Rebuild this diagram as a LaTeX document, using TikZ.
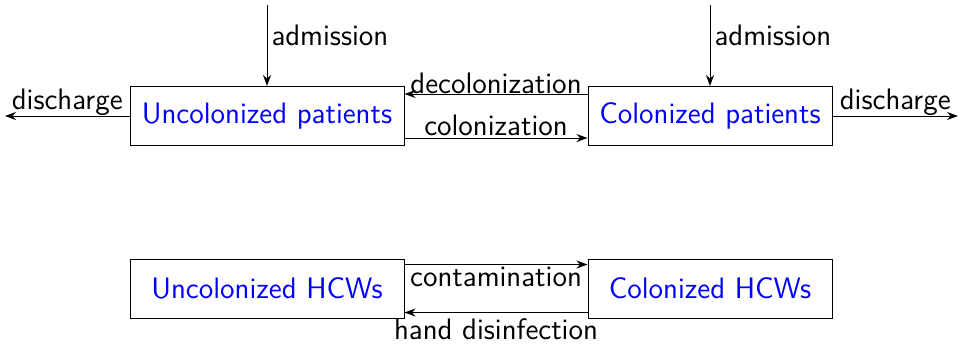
\documentclass[tikz,border=0pt]{standalone}
\usetikzlibrary{arrows.meta}
\begin{document}
\begin{tikzpicture}[x=0.5pt,y=-0.5pt,
  font=\sffamily\fontsize{14.8}{17}\selectfont,
  line width=0.5pt,
  box/.style={draw, minimum height=29.5pt, text=blue, inner sep=0pt},
  arr/.style={-{Stealth[length=5.5pt,width=4pt]}},
  lbl/.style={inner sep=1pt}]
\useasboundingbox (0,0) rectangle (961,344);
\node[box, minimum width=137pt] (up) at (267,116) {Uncolonized patients};
\node[box, minimum width=122pt] (cp) at (710,116) {Colonized patients};
\node[box, minimum width=137pt] (uh) at (267,288.5) {Uncolonized HCWs};
\node[box, minimum width=122pt] (ch) at (710,288.5) {Colonized HCWs};
\coordinate (a1) at (267,5);
\coordinate (a2) at (710,5);
\coordinate (d1) at (5,116);
\coordinate (d2) at (958,116);
% admission
\draw[arr] (a1) -- node[lbl, right, pos=0.38, xshift=1pt] {admission} (up.north);
\draw[arr] (a2) -- node[lbl, right, pos=0.38, xshift=1pt] {admission} (cp.north);
% discharge
\draw[arr] (up.west) -- node[lbl, above, inner sep=0pt] {discharge} (d1);
\draw[arr] (cp.east) -- node[lbl, above, inner sep=0pt] {discharge} (d2);
% colonization / decolonization
\draw[arr] ([yshift=-4pt]cp.north west) -- node[lbl, above, inner sep=0pt] {decolonization} ([yshift=-4pt]up.north east);
\draw[arr] ([yshift=4pt]up.south east) -- node[lbl, above] {colonization} ([yshift=4pt]cp.south west);
% HCWs
\draw[arr] ([yshift=-3pt]uh.north east) -- node[lbl, below] {contamination} ([yshift=-3pt]ch.north west);
\draw[arr] ([yshift=3pt]ch.south west) -- node[lbl, below, yshift=-2pt] {hand disinfection} ([yshift=3pt]uh.south east);
\end{tikzpicture}
\end{document}
